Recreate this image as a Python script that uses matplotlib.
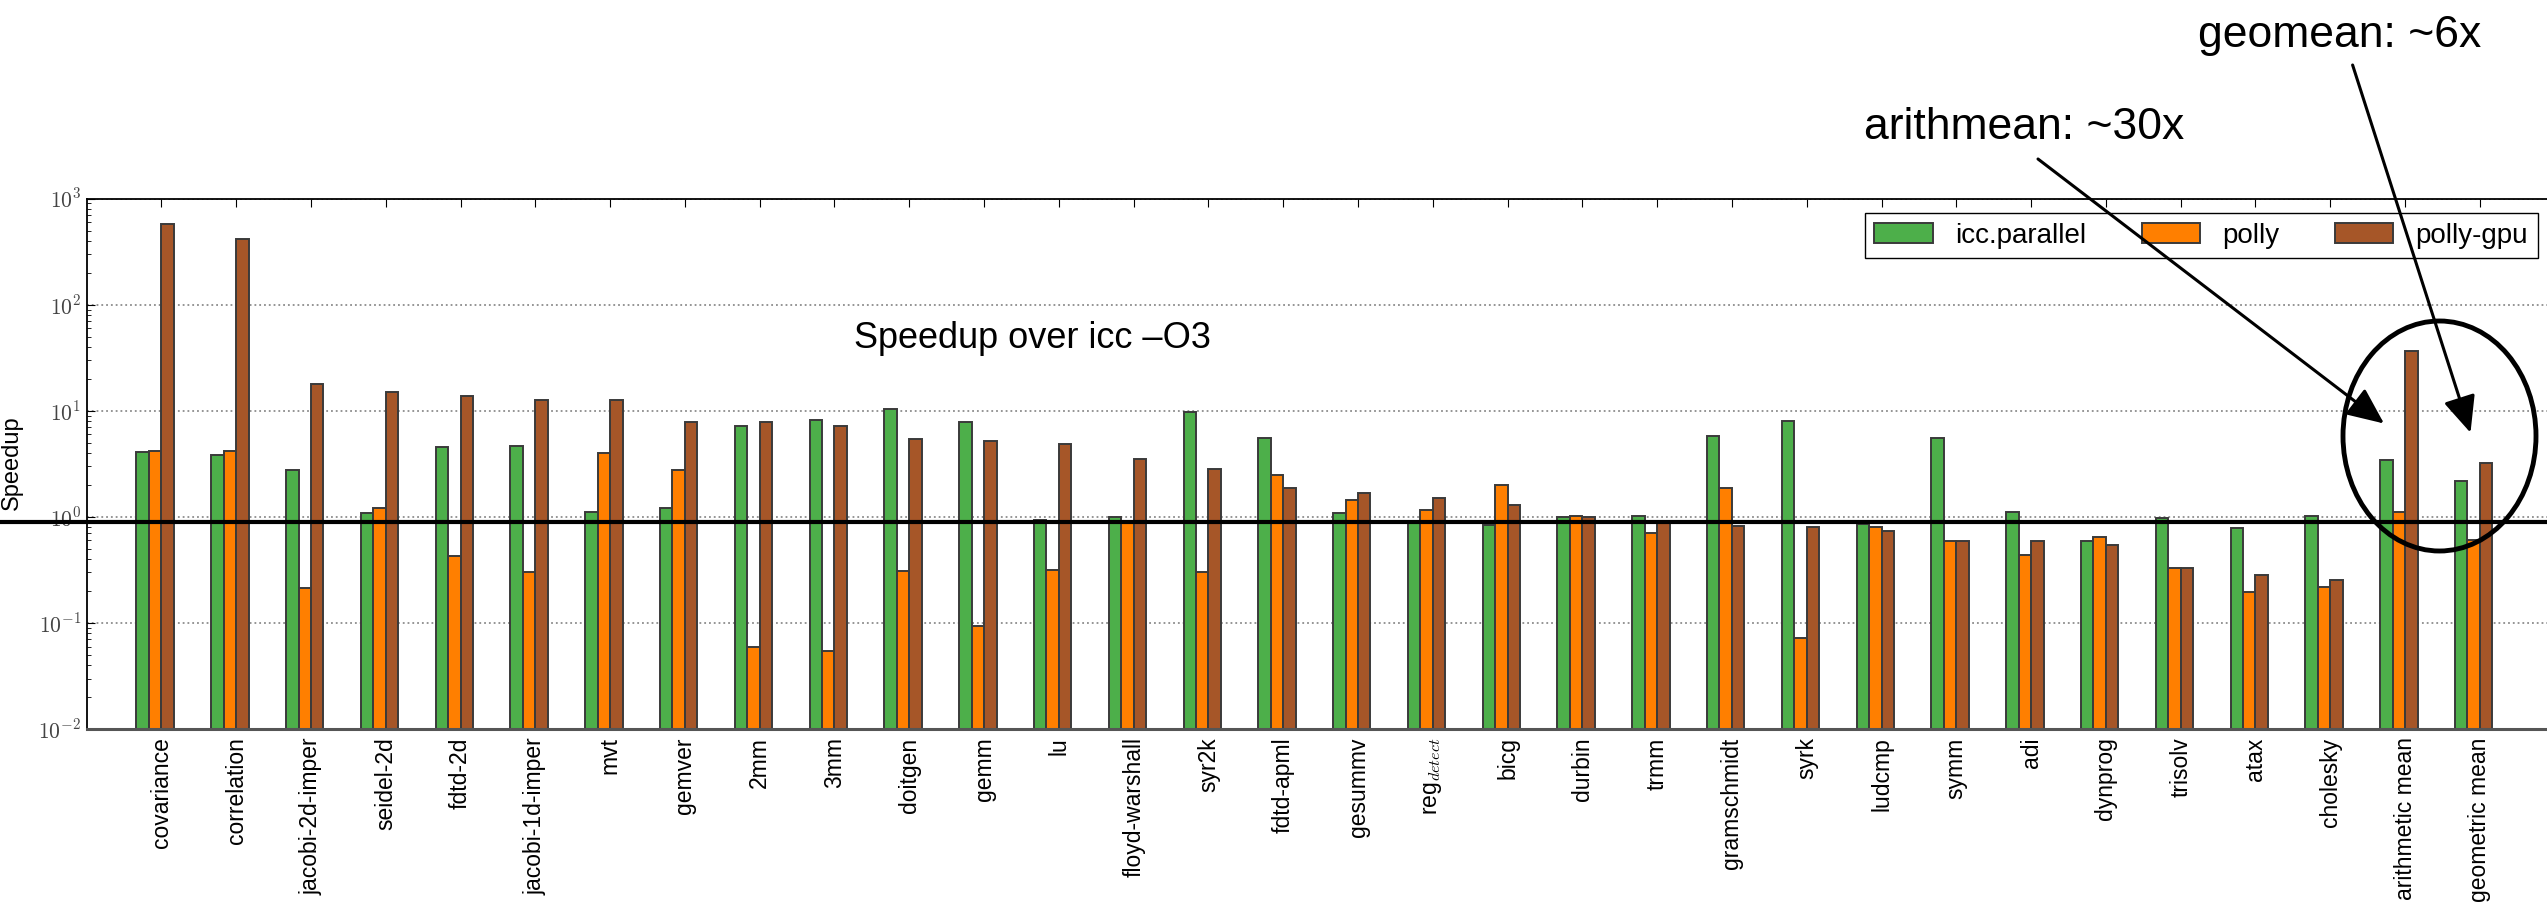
import matplotlib
matplotlib.use("Agg")
import matplotlib.pyplot as plt
import numpy as np
from matplotlib.patches import Ellipse, FancyArrowPatch

plt.rcParams["font.family"] = ["Liberation Sans", "DejaVu Sans"]
plt.rcParams["mathtext.fontset"] = "cm"

benchmarks = [
    "covariance", "correlation", "jacobi-2d-imper", "seidel-2d", "fdtd-2d",
    "jacobi-1d-imper", "mvt", "gemver", "2mm", "3mm", "doitgen", "gemm", "lu",
    "floyd-warshall", "syr2k", "fdtd-apml", "gesummv", r"reg$_{detect}$", "bicg",
    "durbin", "trmm", "gramschmidt", "syrk", "ludcmp", "symm", "adi", "dynprog",
    "trisolv", "atax", "cholesky", "arithmetic mean", "geometric mean",
]

icc_parallel = [4.05, 3.84, 2.74, 1.09, 4.55, 4.7, 1.12, 1.22, 7.25, 8.24,
                10.4, 7.9, 0.94, 0.99, 9.66, 5.5, 1.1, 0.89, 0.84, 0.99,
                1.03, 5.8, 7.98, 0.85, 5.57, 1.12, 0.594, 0.98, 0.784, 1.01,
                3.42, 2.19]
polly = [4.17, 4.17, 0.213, 1.21, 0.424, 0.302, 3.97, 2.74, 0.0597, 0.055,
         0.312, 0.094, 0.318, 0.89, 0.30, 2.51, 1.43, 1.16, 1.99, 1.03,
         0.70, 1.87, 0.072, 0.81, 0.595, 0.435, 0.642, 0.327, 0.196, 0.219,
         1.12, 0.6]
polly_gpu = [571, 415, 17.7, 15.1, 13.8, 12.7, 12.6, 7.89, 7.9, 7.25,
             5.39, 5.17, 4.9, 3.49, 2.83, 1.87, 1.68, 1.51, 1.3, 0.99,
             0.89, 0.82, 0.80, 0.735, 0.595, 0.595, 0.544, 0.327, 0.286, 0.253,
             36.5, 3.2]

ytick_values = [1e-2, 1e-1, 1e0, 1e1, 1e2, 1e3]
ytick_labels = [r"$10^{-2}$", r"$10^{-1}$", r"$10^{0}$", r"$10^{1}$", r"$10^{2}$", r"$10^{3}$"]
baseline_speedup = 0.89

series = [
    ("icc.parallel", icc_parallel, "#4daf4a"),
    ("polly", polly, "#ff7f00"),
    ("polly-gpu", polly_gpu, "#a65628"),
]

fig = plt.figure(figsize=(25.47, 9.15), dpi=100)
ax = fig.add_axes([0.034, 0.2031, 0.969, 0.5799])

x = np.arange(len(benchmarks))
width = 1.0 / 6
for k, (name, values, color) in enumerate(series):
    ax.bar(x + (k - 2) * width, values, width, align="edge", color=color,
           edgecolor="#3a3a3a", linewidth=1.4, label=name, zorder=2)

ax.set_yscale("log")
ax.set_ylim(1e-2, 1e3)
ax.set_xlim(-1, len(benchmarks))
ax.set_yticks(ytick_values)
ax.set_yticklabels(ytick_labels, fontsize=15.5, color="#444444")
ax.set_xticks(x)
ax.set_xticklabels(benchmarks, rotation=90, fontsize=16.5)
ax.tick_params(axis="x", which="major", direction="in", top=True, bottom=True,
               length=6, pad=6)
ax.tick_params(axis="y", which="both", direction="in", right=False, pad=4)
ax.tick_params(axis="y", which="major", length=6)
ax.tick_params(axis="y", which="minor", length=3)
ax.yaxis.grid(True, which="major", linestyle=":", color="0.55", linewidth=1.3)
ax.set_axisbelow(True)
for side in ["top", "left"]:
    ax.spines[side].set_linewidth(1.3)
ax.spines["bottom"].set_linewidth(2.2)
ax.spines["bottom"].set_color("#555555")

ax.set_ylabel("Speedup", fontsize=17)
ax.yaxis.set_label_coords(-0.0258, 0.502)

ax.axhline(baseline_speedup, xmin=-0.04, xmax=1.0, color="black",
           linewidth=3, clip_on=False, zorder=4)

ax.text(0.3834, 0.7192, "Speedup over icc \u2013O3", transform=ax.transAxes,
        ha="center", va="baseline", fontsize=26)

ax.legend(loc="upper right", bbox_to_anchor=(0.9931, 0.9729), borderaxespad=0,
          ncol=3, fontsize=20, fancybox=False, edgecolor="black", framealpha=1,
          handlelength=2.1, handleheight=0.7, handletextpad=0.8,
          columnspacing=2.0, borderpad=0.35)

fig.text(1864 / 2547, 1 - 138.8 / 915, "arithmean: ~30x", fontsize=32,
         ha="left", va="baseline")
fig.text(2198.5 / 2547, 1 - 47 / 915, "geomean: ~6x", fontsize=32,
         ha="left", va="baseline")

arrows = [
    ((2038 / 2547, 1 - 159 / 915), (2384 / 2547, 1 - 423.5 / 915)),
    ((2352.6 / 2547, 1 - 65 / 915), (2470.5 / 2547, 1 - 432.7 / 915)),
]
for start, end in arrows:
    fig.add_artist(FancyArrowPatch(
        start, end, transform=fig.transFigure,
        arrowstyle="-|>,head_length=0.9,head_width=0.4", mutation_scale=25,
        color="black", linewidth=2.2, shrinkA=0, shrinkB=0))

fig.add_artist(Ellipse((2439.5 / 2547, 1 - 436 / 915), 193 / 2547, 230 / 915,
                       transform=fig.transFigure, fill=False,
                       edgecolor="black", linewidth=3.5))

fig.savefig("out.png", dpi=100)
